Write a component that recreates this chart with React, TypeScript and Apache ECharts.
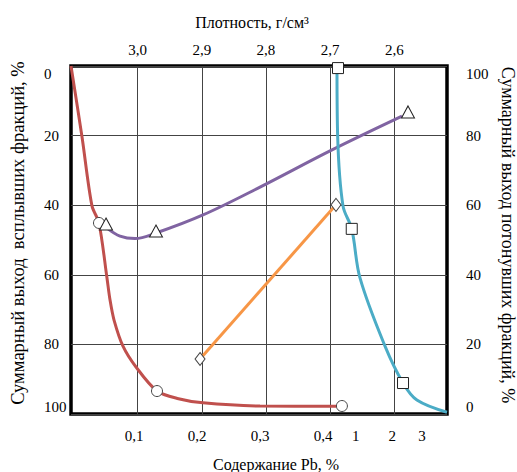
import React, { useEffect, useRef } from "react";
import * as echarts from "echarts";

// Top axis: density, g/cm3
const densityTicks = [3.0, 2.9, 2.8, 2.7, 2.6];
// Bottom axis: Pb content (position units on the drawn scale) and its labels
const pbTickValues = [0.1, 0.2, 0.3, 0.4, 0.452, 0.51, 0.557];
const pbTickLabels = ["0,1", "0,2", "0,3", "0,4", "1", "2", "3"];
const yieldTicksLeft = [0, 20, 40, 60, 80, 100];

// Red curve: cumulative floats yield vs Pb content
const redCurve: [number, number][] = [
  [0, 0], [0.0175, 20.4], [0.0333, 40.2], [0.0444, 45.1], [0.0571, 60.9],
  [0.0619, 67.2], [0.0683, 73.0], [0.0825, 80.5], [0.1032, 86.5], [0.1365, 93.4],
  [0.1706, 95.6], [0.2095, 96.8], [0.3, 97.7], [0.427, 97.8],
];
const redMarkers: [number, number][] = [[0.0444, 45.1], [0.1365, 93.4], [0.43, 97.7]];

// Purple curve
const purpleCurve: [number, number][] = [
  [0.0571, 46.6], [0.0778, 48.9], [0.1016, 49.6], [0.1349, 48.0], [0.2095, 42.8],
  [0.3, 34.8], [0.4143, 24.1], [0.5254, 14.4],
];
const purpleMarkers: [number, number][] = [[0.0556, 45.4], [0.1349, 47.4], [0.5349, 13.2]];

// Cyan curve: cumulative sinks yield (right axis)
const cyanCurve: [number, number][] = [
  [0.4222, 99.2], [0.4233, 79.6], [0.4317, 59.8], [0.4456, 53.2], [0.4587, 39.1],
  [0.4984, 19.5], [0.527, 8.9], [0.549, 4.0], [0.5968, 0.5],
];
const cyanMarkers: [number, number][] = [[0.4238, 99.4], [0.4456, 53.2], [0.527, 8.9]];

// Orange line
const orangeLine: [number, number][] = [[0.2048, 84.2], [0.4206, 39.9]];

const FONT = "'Liberation Serif', 'Times New Roman', serif";

export default function App() {
  const ref = useRef<HTMLDivElement>(null);
  useEffect(() => {
    if (!ref.current) return;
    const chart = echarts.init(ref.current, null, { renderer: "svg" });
    const pbLabel = (v: number) => {
      let best = 0;
      let d = Infinity;
      pbTickValues.forEach((t, i) => {
        if (Math.abs(t - v) < d) { d = Math.abs(t - v); best = i; }
      });
      return pbTickLabels[best];
    };
    chart.setOption({
      animation: false,
      backgroundColor: "#fff",
      textStyle: { fontFamily: FONT, color: "#000" },
      grid: {
        left: 71, right: 70, top: 66, height: 348,
        containLabel: false, outerBoundsMode: "none",
        show: true, borderColor: "#000", borderWidth: 3.5, backgroundColor: "transparent",
      },
      xAxis: [
        {
          type: "value", position: "top", inverse: true, min: 2.518, max: 3.1037,
          name: "Плотность, г/см³", nameLocation: "middle", nameGap: 36,
          nameTextStyle: { fontSize: 16, fontFamily: FONT, color: "#000", padding: [0, 14, 0, 0] },
          axisLine: { show: false }, axisTick: { show: false, customValues: densityTicks },
          axisLabel: {
            customValues: densityTicks, margin: 9, fontSize: 15, fontFamily: FONT, color: "#000",
            formatter: (v: number) => v.toFixed(1).replace(".", ","),
          },
          splitLine: { show: true, lineStyle: { color: "#444", width: 1 } },
        },
        {
          type: "value", position: "bottom", min: 0, max: 0.5968,
          name: "Содержание Pb, %", nameLocation: "middle", nameGap: 42,
          nameTextStyle: { fontSize: 16, fontFamily: FONT, color: "#000", padding: [0, 0, 0, 34] },
          axisLine: { show: false }, axisTick: { show: false, customValues: pbTickValues },
          axisLabel: {
            customValues: pbTickValues, margin: 14, fontSize: 15, fontFamily: FONT, color: "#000",
            formatter: pbLabel,
          },
          splitLine: { show: false },
        },
      ],
      yAxis: [
        {
          type: "value", position: "left", inverse: true, min: 0, max: 100, interval: 20,
          name: "Суммарный выход  всплывших фракций, %", nameLocation: "middle", nameGap: 44,
          nameRotate: 90,
          nameTextStyle: { fontSize: 18.5, fontFamily: FONT, color: "#000", padding: [0, 0, 0, 14] },
          axisLine: { show: false }, axisTick: { show: false },
          axisLabel: {
            customValues: yieldTicksLeft,
            align: "left", margin: 27, fontSize: 15, fontFamily: FONT, color: "#000",
            verticalAlignMinLabel: "top", verticalAlignMaxLabel: "bottom",
          },
          splitLine: { show: true, lineStyle: { color: "#444", width: 1 } },
        },
        {
          type: "value", position: "right", min: 0, max: 100, interval: 20,
          name: "Суммарный выход потонувших фракций, %", nameLocation: "middle", nameGap: 51,
          nameRotate: -90,
          nameTextStyle: { fontSize: 18, fontFamily: FONT, color: "#000", padding: [0, 10, 0, 0] },
          axisLine: { show: false }, axisTick: { show: false },
          axisLabel: {
            align: "left", margin: 19, fontSize: 15, fontFamily: FONT, color: "#000",
            verticalAlignMaxLabel: "top", verticalAlignMinLabel: "bottom",
          },
          splitLine: { show: false },
        },
      ],
      series: [
        {
          type: "line", xAxisIndex: 1, yAxisIndex: 0, data: redCurve, smooth: 0.3,
          showSymbol: false, lineStyle: { color: "#C0504D", width: 3 }, z: 3,
        },
        {
          type: "line", xAxisIndex: 1, yAxisIndex: 0, data: purpleCurve, smooth: 0.35,
          showSymbol: false, lineStyle: { color: "#8064A2", width: 3 }, z: 3,
        },
        {
          type: "line", xAxisIndex: 1, yAxisIndex: 1, data: cyanCurve, smooth: 0.35,
          showSymbol: false, lineStyle: { color: "#4BACC6", width: 3 }, z: 3,
        },
        {
          type: "line", xAxisIndex: 1, yAxisIndex: 0, data: orangeLine,
          showSymbol: true, symbol: "diamond", symbolSize: [10, 13],
          itemStyle: { color: "#fff", borderColor: "#444", borderWidth: 1 },
          lineStyle: { color: "#F79646", width: 3 }, z: 4,
        },
        {
          type: "scatter", xAxisIndex: 1, yAxisIndex: 0, data: redMarkers,
          symbol: "circle", symbolSize: 11,
          itemStyle: { color: "#fff", borderColor: "#444", borderWidth: 1, opacity: 1 }, z: 5,
        },
        {
          type: "scatter", xAxisIndex: 1, yAxisIndex: 0, data: purpleMarkers,
          symbol: "triangle", symbolSize: [13, 12],
          itemStyle: { color: "#fff", borderColor: "#222", borderWidth: 1, opacity: 1 }, z: 5,
        },
        {
          type: "scatter", xAxisIndex: 1, yAxisIndex: 1, data: cyanMarkers,
          symbol: "rect", symbolSize: 11,
          itemStyle: { color: "#fff", borderColor: "#222", borderWidth: 1, opacity: 1 }, z: 5,
        },
      ],
    });
    return () => chart.dispose();
  }, []);
  return (
    <div
      ref={ref}
      style={{ position: "fixed", left: 0, top: 0, width: 517, height: 472, background: "#fff" }}
    />
  );
}
